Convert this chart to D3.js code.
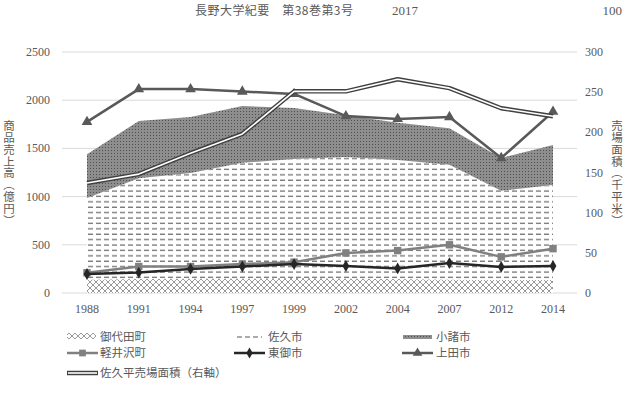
<!DOCTYPE html>
<meta charset="utf-8">
<title>佐久地域 商品売上高</title>
<style>
  body { margin: 0; background: #fff; }
  text { fill: #595959; }
  .num { font-family: "Liberation Serif", "DejaVu Serif", serif; font-size: 12px; }
  .jp { font-family: "Noto Sans CJK JP", sans-serif; font-size: 11px; }
  .vt { writing-mode: vertical-rl; font-family: "Noto Sans CJK JP", sans-serif; font-size: 11.5px; letter-spacing: 0.3px; }
</style>
<svg width="630" height="393"></svg>
<script src="https://cdn.jsdelivr.net/npm/d3@7"></script>
<script>

  var years = ["1988", "1991", "1994", "1997", "1999", "2002", "2004", "2007", "2012", "2014"];

  // 積み上げ面 (億円)
  var miyota = [140, 145, 150, 150, 155, 150, 145, 140, 135, 135];
  var saku = [845, 1045, 1095, 1200, 1235, 1260, 1235, 1190, 925, 985];
  var komoro = [455, 595, 580, 590, 530, 435, 385, 380, 340, 415];

  // 折れ線 (億円)
  var karuizawa = [210, 275, 275, 300, 320, 415, 440, 500, 375, 460];
  var tomi = [197, 212, 250, 275, 300, 280, 255, 310, 270, 280];
  var ueda = [1775, 2115, 2115, 2090, 2065, 1835, 1805, 1825, 1400, 1880];

  // 佐久平売場面積 (千平米, 右軸)
  var floorArea = [137, 148, 174, 198, 251, 251, 266, 255, 230, 220];

  var leftTicks = [0, 500, 1000, 1500, 2000, 2500];
  var rightTicks = [0, 50, 100, 150, 200, 250, 300];

  var svg = d3.select("svg");

  var x = d3.scalePoint().domain(years).range([87, 553]);
  var y = d3.scaleLinear().domain([0, 2500]).range([293, 52]);
  var y2 = d3.scaleLinear().domain([0, 300]).range([293, 52]);

  // patterns
  var defs = svg.append("defs");

  var pX = defs.append("pattern").attr("id", "cross")
      .attr("patternUnits", "userSpaceOnUse").attr("width", 6).attr("height", 6);
  pX.append("rect").attr("width", 6).attr("height", 6).attr("fill", "#fff");
  pX.append("path").attr("d", "M0,0L6,6M6,0L0,6")
      .attr("stroke", "#8c8c8c").attr("stroke-width", 0.9);

  var pD = defs.append("pattern").attr("id", "dash")
      .attr("patternUnits", "userSpaceOnUse").attr("width", 8).attr("height", 5.4);
  pD.append("rect").attr("width", 8).attr("height", 5.4).attr("fill", "#fff");
  pD.append("line").attr("x1", 0).attr("x2", 5).attr("y1", 2).attr("y2", 2)
      .attr("stroke", "#595959").attr("stroke-width", 1.1);

  // dotted grey for 小諸市
  var pK = defs.append("pattern").attr("id", "check")
      .attr("patternUnits", "userSpaceOnUse").attr("width", 3).attr("height", 3);
  pK.append("rect").attr("width", 3).attr("height", 3).attr("fill", "#8e8e8e");
  pK.append("rect").attr("width", 1).attr("height", 1).attr("fill", "#505050");

  // header
  svg.append("text").attr("class", "jp").attr("x", 195).attr("y", 15).style("font-size", "12px")
      .attr("textLength", 158).attr("lengthAdjust", "spacing")
      .text("長野大学紀要　第38巻第3号");
  svg.append("text").attr("class", "num").attr("x", 392).attr("y", 15).style("font-size", "13px").text("2017");
  svg.append("text").attr("class", "num").attr("x", 622).attr("y", 15).attr("text-anchor", "end")
      .style("font-size", "13px").text("100");

  // grid
  svg.append("g").selectAll("line").data(leftTicks).enter().append("line")
      .attr("x1", 62).attr("x2", 577)
      .attr("y1", function(d) { return y(d); }).attr("y2", function(d) { return y(d); })
      .attr("stroke", "#d9d9d9").attr("stroke-width", 1);

  // left axis labels
  svg.append("g").selectAll("text").data(leftTicks).enter().append("text")
      .attr("class", "num").attr("x", 50).attr("y", function(d) { return y(d) + 4; })
      .attr("text-anchor", "end").text(function(d) { return d; });

  // right axis labels
  svg.append("g").selectAll("text").data(rightTicks).enter().append("text")
      .attr("class", "num").attr("x", 585).attr("y", function(d) { return y2(d) + 4; })
      .text(function(d) { return d; });

  // x labels
  svg.append("g").selectAll("text").data(years).enter().append("text")
      .attr("class", "num").attr("x", function(d) { return x(d); }).attr("y", 313)
      .attr("text-anchor", "middle").text(function(d) { return d; });

  // axis titles (vertical)
  svg.append("text").attr("class", "vt").attr("x", 9).attr("y", 120).text("商品売上高（億円）");
  svg.append("text").attr("class", "vt").attr("x", 617).attr("y", 120).text("売場面積（千平米）");

  // stacked areas
  var table = years.map(function(yr, i) {
    return { year: yr, miyota: miyota[i], saku: saku[i], komoro: komoro[i] };
  });
  var stack = d3.stack().keys(["miyota", "saku", "komoro"]);
  var layers = stack(table);
  var fills = { miyota: "url(#cross)", saku: "url(#dash)", komoro: "url(#check)" };

  var area = d3.area()
      .x(function(d) { return x(d.data.year); })
      .y0(function(d) { return y(d[0]); })
      .y1(function(d) { return y(d[1]); });

  svg.append("g").selectAll("path").data(layers).enter().append("path")
      .attr("d", area)
      .attr("fill", function(d) { return fills[d.key]; });

  // lines
  var line = d3.line()
      .x(function(d, i) { return x(years[i]); })
      .y(function(d) { return y(d); });
  var line2 = d3.line()
      .x(function(d, i) { return x(years[i]); })
      .y(function(d) { return y2(d); });

  function drawSeries(vals, color, shape, size) {
    svg.append("path").attr("d", line(vals)).attr("fill", "none")
        .attr("stroke", color).attr("stroke-width", 2.5).attr("stroke-linejoin", "round");
    svg.append("g").selectAll("path").data(vals).enter().append("path")
        .attr("transform", function(d, i) { return "translate(" + x(years[i]) + "," + y(d) + ")"; })
        .attr("d", d3.symbol().type(shape).size(size))
        .attr("fill", color);
  }

  drawSeries(karuizawa, "#808080", d3.symbolSquare, 55);
  drawSeries(tomi, "#262626", d3.symbolDiamond, 40);
  drawSeries(ueda, "#595959", d3.symbolTriangle, 50);

  // 佐久平売場面積 double line
  svg.append("path").attr("d", line2(floorArea)).attr("fill", "none")
      .attr("stroke", "#404040").attr("stroke-width", 4.5).attr("stroke-linejoin", "round");
  svg.append("path").attr("d", line2(floorArea)).attr("fill", "none")
      .attr("stroke", "#fff").attr("stroke-width", 1.6).attr("stroke-linejoin", "round");

  // legend
  var legend = svg.append("g");
  function legText(str, lx, ly) {
    legend.append("text").attr("class", "jp").attr("x", lx).attr("y", ly + 4).style("font-size", "11.5px").text(str);
  }
  // row 1
  legend.append("rect").attr("x", 67).attr("y", 333).attr("width", 29).attr("height", 6).attr("fill", "url(#cross)");
  legText("御代田町", 100, 337);
  legend.append("line").attr("x1", 237).attr("x2", 262).attr("y1", 337).attr("y2", 337)
      .attr("stroke", "#595959").attr("stroke-width", 1.2).attr("stroke-dasharray", "5,3");
  legText("佐久市", 268, 337);
  legend.append("rect").attr("x", 403).attr("y", 335).attr("width", 29).attr("height", 4).attr("fill", "url(#check)");
  legText("小諸市", 436, 337);
  // row 2
  function legLine(lx, ly, color, shape, size) {
    legend.append("line").attr("x1", lx).attr("x2", lx + 31).attr("y1", ly).attr("y2", ly)
        .attr("stroke", color).attr("stroke-width", 2.5);
    legend.append("path").attr("transform", "translate(" + (lx + 15.5) + "," + ly + ")")
        .attr("d", d3.symbol().type(shape).size(size)).attr("fill", color);
  }
  legLine(67, 353, "#808080", d3.symbolSquare, 45);
  legText("軽井沢町", 100, 353);
  legLine(234, 353, "#262626", d3.symbolDiamond, 35);
  legText("東御市", 268, 353);
  legLine(402, 353, "#595959", d3.symbolTriangle, 40);
  legText("上田市", 436, 353);
  // row 3
  legend.append("line").attr("x1", 67).attr("x2", 98).attr("y1", 373).attr("y2", 373)
      .attr("stroke", "#404040").attr("stroke-width", 4.5);
  legend.append("line").attr("x1", 68).attr("x2", 97).attr("y1", 373).attr("y2", 373)
      .attr("stroke", "#fff").attr("stroke-width", 1.6);
  legText("佐久平売場面積（右軸）", 100, 373);

</script>
